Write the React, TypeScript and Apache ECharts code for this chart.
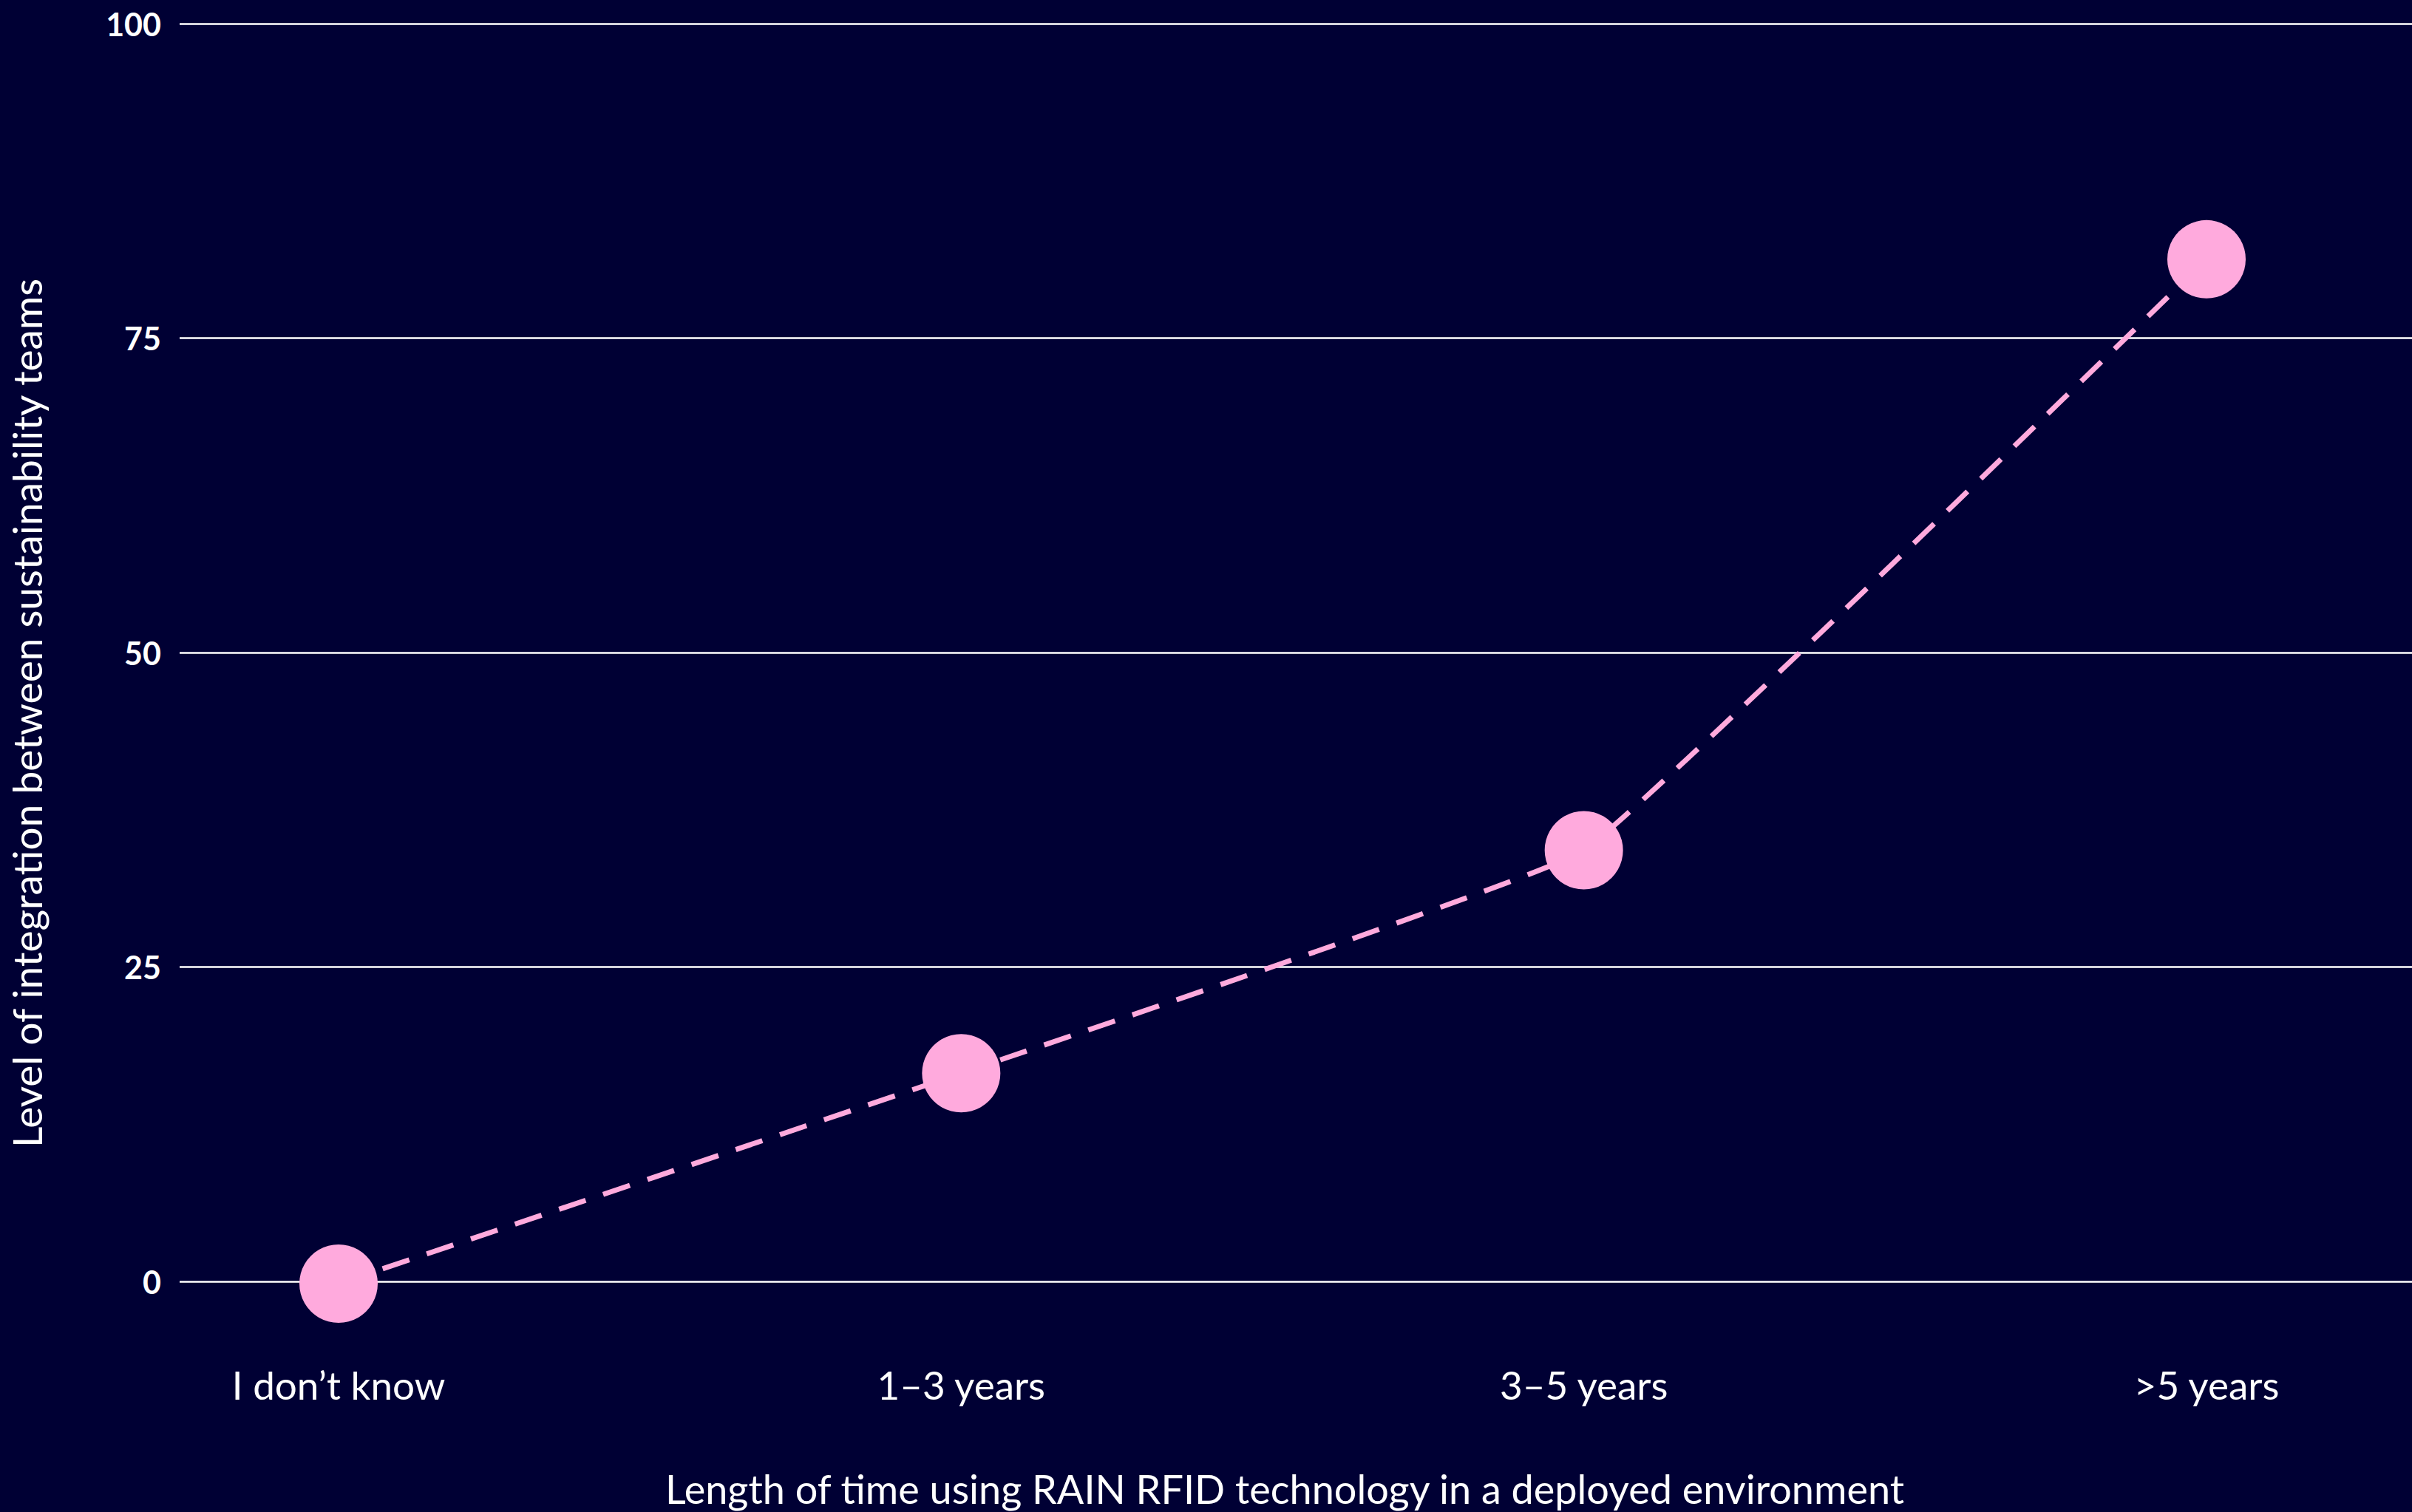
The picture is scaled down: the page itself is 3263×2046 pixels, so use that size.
import React, { useEffect, useRef } from "react";
import * as echarts from "echarts";

const categories = ["I don\u2019t know", "1\u20133 years", "3\u20135 years", ">5 years"];
const integrationValues = [0, 16.7, 34.4, 81.3];
const yTicks = { min: 0, max: 100, interval: 25 };
const xTitle = "Length of time using RAIN RFID technology in a deployed environment";
const yTitle = "Level of integration between sustainability teams";

const W = 3263;
const H = 2046;
const BG = "#000034";
const PINK = "#FFAADD";
const FONT = "Lato, 'Noto Sans', sans-serif";

export default function App() {
  const ref = useRef<HTMLDivElement>(null);
  useEffect(() => {
    document.body.style.margin = "0";
    document.body.style.background = BG;
    const chart = echarts.init(ref.current!, null, { renderer: "svg" });
    chart.setOption({
      animation: false,
      backgroundColor: BG,
      textStyle: { fontFamily: FONT },
      grid: [
        { left: 227, right: 0, top: 32, bottom: 309 },
        { left: 458, right: 278, top: 32, bottom: 309 },
      ],
      xAxis: [
        {
          gridIndex: 0,
          type: "value",
          min: 0,
          max: 1,
          axisLine: { show: false },
          axisTick: { show: false },
          axisLabel: { show: false },
          splitLine: { show: false },
          name: xTitle,
          nameLocation: "middle",
          nameGap: 253,
          nameTextStyle: { color: "#ffffff", fontSize: 54, fontFamily: FONT, padding: [0, 30, 0, 0] },
        },
        {
          gridIndex: 1,
          type: "category",
          boundaryGap: false,
          data: categories,
          axisLine: { show: false },
          axisTick: { show: false },
          splitLine: { show: false },
          axisLabel: { color: "#ffffff", fontSize: 53, margin: 110, fontFamily: FONT },
        },
      ],
      yAxis: [
        {
          gridIndex: 0,
          type: "value",
          min: yTicks.min,
          max: yTicks.max,
          interval: yTicks.interval,
          axisLine: { show: false },
          axisTick: { show: false },
          axisLabel: { color: "#ffffff", fontSize: 43, fontWeight: "bold", margin: 25, fontFamily: FONT },
          splitLine: { lineStyle: { color: "#ffffff", width: 2.5 } },
          name: yTitle,
          nameLocation: "middle",
          nameRotate: 90,
          nameGap: 180,
          nameTextStyle: { color: "#ffffff", fontSize: 55, fontFamily: FONT, padding: [0, 164, 0, 0] },
        },
        {
          gridIndex: 1,
          type: "value",
          min: yTicks.min,
          max: yTicks.max,
          show: false,
        },
      ],
      series: [
        {
          type: "line",
          xAxisIndex: 1,
          yAxisIndex: 1,
          data: integrationValues,
          smooth: 0.08,
          symbol: "circle",
          symbolSize: 106,
          itemStyle: { color: PINK },
          lineStyle: { color: PINK, width: 7, type: [38, 25] },
          z: 3,
        },
      ],
    });
    return () => chart.dispose();
  }, []);
  return <div ref={ref} style={{ width: W, height: H, position: "fixed", left: 0, top: 0 }} />;
}
